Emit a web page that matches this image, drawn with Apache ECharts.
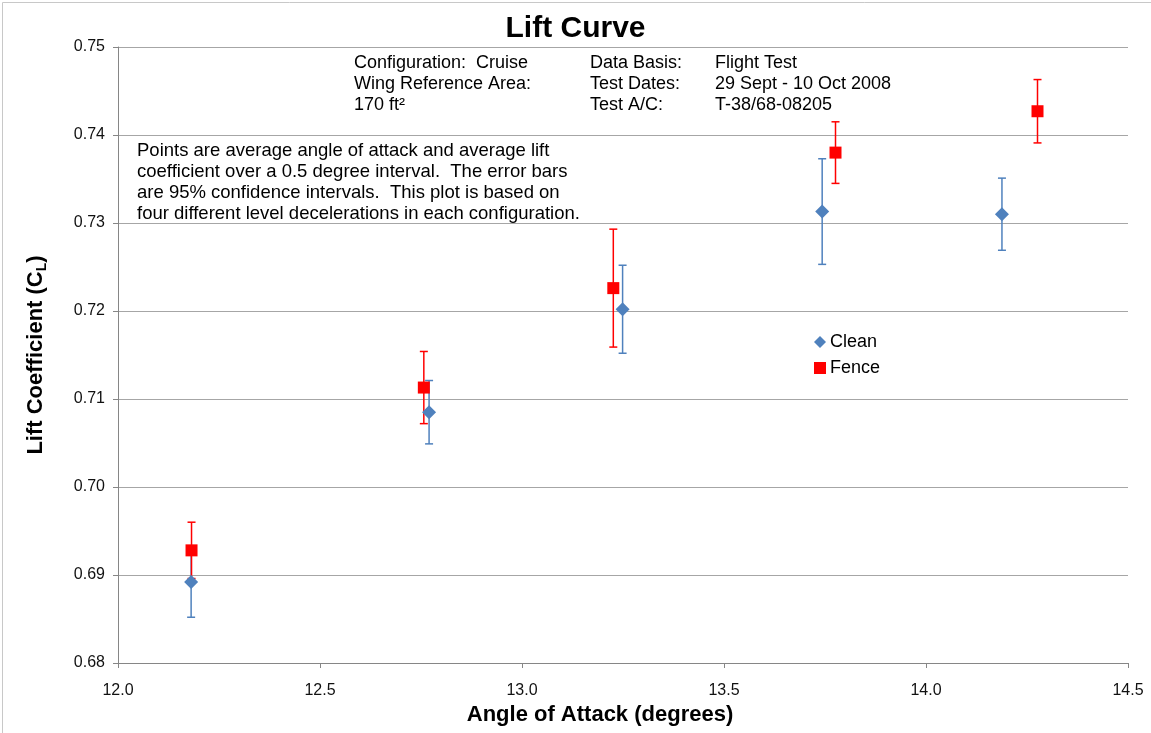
<!DOCTYPE html>
<html>
<head>
<meta charset="utf-8">
<script src="https://cdn.jsdelivr.net/npm/echarts@6/dist/echarts.min.js"></script>
<style>
html,body{margin:0;padding:0;background:#fff;}
#chart{width:1151px;height:733px;}
</style>
</head>
<body>
<div id="chart"></div>
<script>
// ---- data ----
const cleanX   = [12.181, 12.770, 13.249, 13.743, 14.188];
const cleanY   = [0.6892, 0.7085, 0.7202, 0.7313, 0.7310];
const cleanErr = [0.0040, 0.0036, 0.0050, 0.0060, 0.0041];

const fenceX   = [12.182, 12.757, 13.226, 13.776, 14.276];
const fenceY   = [0.6928, 0.7113, 0.7226, 0.7380, 0.7427];
const fenceErr = [0.0032, 0.0041, 0.0067, 0.0035, 0.0036];

const seriesNames = ['Clean', 'Fence'];
const titleText = 'Lift Curve';
const xAxisTitle = 'Angle of Attack (degrees)';
const infoLeft = ['Configuration:  Cruise', 'Wing Reference Area:', '170 ft\u00B2'];
const infoLabels = ['Data Basis:', 'Test Dates:', 'Test A/C:'];
const infoValues = ['Flight Test', '29 Sept - 10 Oct 2008', 'T-38/68-08205'];
const noteLines = [
  'Points are average angle of attack and average lift',
  'coefficient over a 0.5 degree interval.  The error bars',
  'are 95% confidence intervals.  This plot is based on',
  'four different level decelerations in each configuration.'
];

const BLUE = '#4f81bd';
const RED = '#ff0000';
const FONT = '"Liberation Sans", Arial, sans-serif';
const NARROW = '"Liberation Sans Narrow", "Liberation Sans", Arial, sans-serif';

function pts(xs, ys) { return xs.map((x, i) => [x, ys[i]]); }
function errPts(xs, ys, es) { return xs.map((x, i) => [x, ys[i] - es[i], ys[i] + es[i]]); }

function errorBarSeries(name, data, color, z) {
  return {
    type: 'custom',
    name: name + ' error',
    data: data,
    z: z,
    silent: true,
    encode: { x: 0, y: [1, 2] },
    renderItem: function (params, api) {
      const x = api.value(0);
      const lo = api.coord([x, api.value(1)]);
      const hi = api.coord([x, api.value(2)]);
      const cap = 4;
      const style = { stroke: color, lineWidth: 1.5, fill: null };
      return {
        type: 'group',
        children: [
          { type: 'line', shape: { x1: lo[0], y1: lo[1], x2: hi[0], y2: hi[1] }, style: style },
          { type: 'line', shape: { x1: lo[0] - cap, y1: lo[1], x2: lo[0] + cap, y2: lo[1] }, style: style },
          { type: 'line', shape: { x1: hi[0] - cap, y1: hi[1], x2: hi[0] + cap, y2: hi[1] }, style: style }
        ]
      };
    }
  };
}

const chart = echarts.init(document.getElementById('chart'), null, { renderer: 'canvas' });

const option = {
  backgroundColor: '#ffffff',
  animation: false,
  title: {
    text: titleText,
    left: 'center',
    top: 9,
    textStyle: { fontFamily: FONT, fontSize: 30, fontWeight: 'bold', color: '#000' }
  },
  legend: {
    data: [
      { name: seriesNames[0], icon: 'diamond' },
      { name: seriesNames[1], icon: 'rect' }
    ],
    orient: 'vertical',
    left: 809,
    top: 328,
    itemWidth: 12,
    itemHeight: 12,
    itemGap: 8,
    textStyle: { fontFamily: FONT, fontSize: 18, color: '#000', padding: [0, 0, 0, -1] }
  },
  grid: { left: 118, right: 23, top: 47, bottom: 70, containLabel: false },
  xAxis: {
    type: 'value',
    min: 12.0,
    max: 14.5,
    interval: 0.5,
    name: xAxisTitle,
    nameLocation: 'middle',
    nameGap: 41,
    nameTextStyle: { fontFamily: FONT, fontSize: 22, fontWeight: 'bold', color: '#000', padding: [0, 46, 0, 0] },
    axisLine: { show: true, onZero: false, lineStyle: { color: '#868686', width: 1 } },
    axisTick: { show: true, inside: false, length: 5, lineStyle: { color: '#868686' } },
    axisLabel: { fontFamily: NARROW, fontSize: 16, color: '#111', margin: 20, formatter: v => v.toFixed(1) },
    splitLine: { show: false }
  },
  yAxis: {
    type: 'value',
    min: 0.68,
    max: 0.75,
    interval: 0.01,
    name: '{m|Lift Coefficient (C}{s|L}{m|)}',
    nameLocation: 'middle',
    nameGap: 69,
    nameTextStyle: {
      rich: {
        m: { fontFamily: FONT, fontSize: 22, fontWeight: 'bold', color: '#000', lineHeight: 26 },
        s: { fontFamily: FONT, fontSize: 14, fontWeight: 'bold', color: '#000', lineHeight: 26, verticalAlign: 'bottom', padding: [9, 0, 0, 0] }
      }
    },
    axisLine: { show: true, lineStyle: { color: '#868686', width: 1 } },
    axisTick: { show: true, inside: false, length: 5, lineStyle: { color: '#868686' } },
    axisLabel: { fontFamily: NARROW, fontSize: 16, color: '#111', margin: 13, formatter: v => v.toFixed(2), padding: [3, 0, 0, 0] },
    splitLine: { show: true, lineStyle: { color: '#a6a6a6', width: 1 } }
  },
  graphic: [
    {
      type: 'rect', left: 0, top: 0, z: -10, silent: true,
      shape: { x: 0.5, y: 0.5, width: 1149, height: 731 },
      style: { fill: null, stroke: '#c8c8c8', lineWidth: 1 }
    },
    {
      type: 'text', left: 354, top: 53, silent: true,
      style: { text: infoLeft.join('\n'), font: '18px ' + FONT, fill: '#000', lineHeight: 21 }
    },
    {
      type: 'text', left: 590, top: 53, silent: true,
      style: { text: infoLabels.join('\n'), font: '18px ' + FONT, fill: '#000', lineHeight: 21 }
    },
    {
      type: 'text', left: 715, top: 53, silent: true,
      style: { text: infoValues.join('\n'), font: '18px ' + FONT, fill: '#000', lineHeight: 21 }
    },
    {
      type: 'text', left: 137, top: 140, silent: true,
      style: { text: noteLines.join('\n'), font: '18.5px ' + FONT, fill: '#000', lineHeight: 21 }
    }
  ],
  series: [
    errorBarSeries(seriesNames[0], errPts(cleanX, cleanY, cleanErr), BLUE, 2),
    errorBarSeries(seriesNames[1], errPts(fenceX, fenceY, fenceErr), RED, 3),
    {
      type: 'scatter', name: seriesNames[0], data: pts(cleanX, cleanY),
      symbol: 'diamond', symbolSize: 14, z: 4,
      itemStyle: { color: BLUE, opacity: 1 }
    },
    {
      type: 'scatter', name: seriesNames[1], data: pts(fenceX, fenceY),
      symbol: 'rect', symbolSize: 12, z: 5,
      itemStyle: { color: RED, opacity: 1 }
    }
  ]
};

chart.setOption(option);
</script>
</body>
</html>
